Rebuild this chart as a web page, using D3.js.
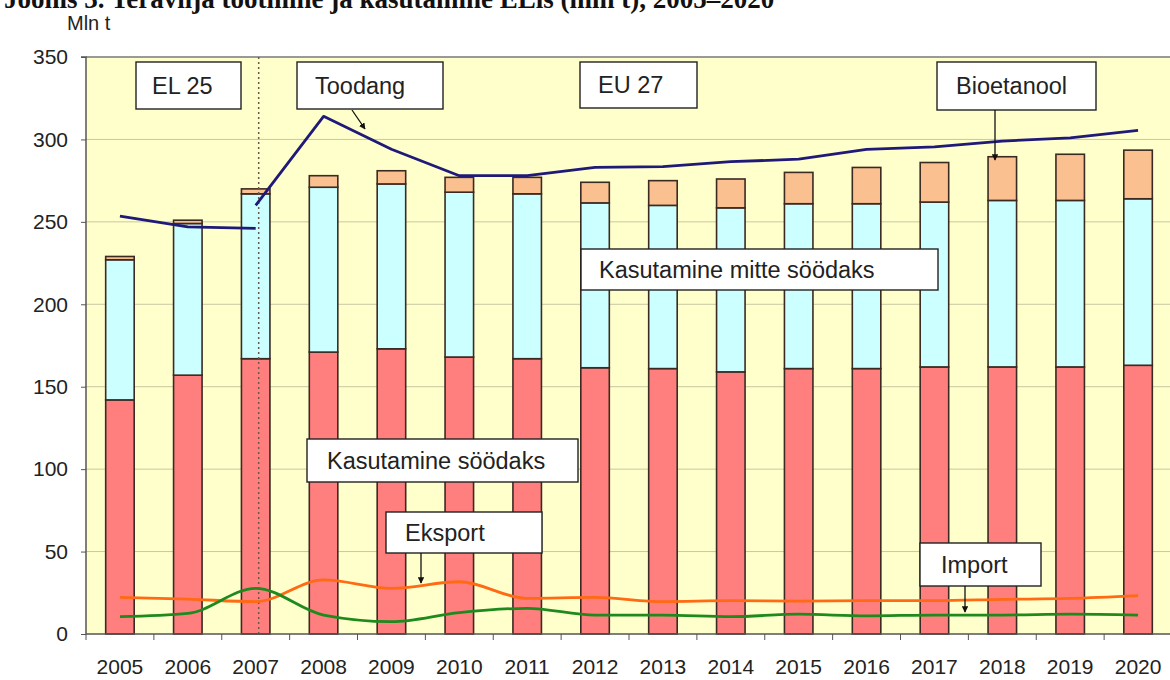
<!DOCTYPE html>
<html>
<head>
<meta charset="utf-8">
<style>
body, html {
	margin: 0;
	width: 100%;
	height: 100%;
	background: #fff;
}
svg text {
	font-family: "Liberation Sans", Arial, sans-serif;
}
</style>
</head>
<body>
<div id="chartContainer"></div>

<script src="https://cdn.jsdelivr.net/npm/d3@7/dist/d3.min.js"></script>
<script>

// --- data (Mln t) ---
const years = ["2005","2006","2007","2008","2009","2010","2011","2012","2013","2014","2015","2016","2017","2018","2019","2020"];
const feedUse    = [142, 157, 167, 171, 173, 168, 167, 161.5, 161, 159, 161, 161, 162, 162, 162, 163];
const nonFeedUse = [ 85,  92, 100, 100, 100, 100, 100, 100, 99, 99.5, 100, 100, 100, 101, 101, 101];
const bioethanol = [  2,   2,   3,   7,   8,   9,  10,  12.5, 15, 17.5, 19, 22, 24, 26.5, 28, 29.5];
const prodEL25Years = ["2005","2006","2007"];
const prodEL25 = [253.5, 247, 246];
const prodEU27Years = years.slice(2);
const prodEU27 = [260, 314, 294, 278, 278, 283, 283.5, 286.5, 288, 294, 295.5, 299, 301, 305.5];
const exportVals = [22.2, 21.2, 19.6, 32.8, 27.7, 31.7, 21.6, 22.2, 19.6, 20.2, 20, 20.2, 20.2, 21, 21.6, 23.3];
const importVals = [10.5, 12.5, 27.7, 11.5, 7.5, 13, 15.6, 11.5, 11.5, 10.5, 12, 11, 11.5, 11.5, 12, 11.5];
const yTicks = [0, 50, 100, 150, 200, 250, 300, 350];

// --- styles ---
const WIDTH = 1170, HEIGHT = 680;
const PLOT = {left: 86, right: 1172, top: 57, bottom: 634};
const BG_COLOR = '#FFFFCC';
const GRID_COLOR = '#C9C7A2';
const AXIS_COLOR = '#555';
const BAR_STROKE = '#3A2A22';
const FEED_COLOR = '#FF7F7F';
const NONFEED_COLOR = '#CCFFFF';
const BIO_COLOR = '#FAC090';
const PROD_COLOR = '#1F1A78';
const EXPORT_COLOR = '#FF6A13';
const IMPORT_COLOR = '#1E8A1E';
const TEXT_COLOR = '#222';
const AXIS_FONT = '21px';
const NOTE_FONT = '23.5px';

var svg = d3.select("#chartContainer").append("svg")
	.attr("width", WIDTH)
	.attr("height", HEIGHT);

var defs = svg.append("defs");
defs.append("marker")
	.attr("id", "arrow")
	.attr("viewBox", "0 0 10 10")
	.attr("refX", 9).attr("refY", 5)
	.attr("markerWidth", 5).attr("markerHeight", 5)
	.attr("orient", "auto")
	.append("path").attr("d", "M0,0 L10,5 L0,10 z").attr("fill", "#111");

// heading, mostly cut off by the top edge as in the original picture
svg.append("text")
	.attr("x", 4).attr("y", 8)
	.style("font-family", "'Liberation Serif', 'DejaVu Serif', serif")
	.style("font-weight", "bold")
	.style("font-size", "27px")
	.attr("fill", "#111")
	.text("Joonis 3. Teravilja tootmine ja kasutamine ELis (mln t), 2005–2020");

var x = d3.scaleBand()
	.domain(years)
	.range([PLOT.left, PLOT.right])
	.paddingInner(0.58)
	.paddingOuter(0.29);

var y = d3.scaleLinear()
	.domain([0, 350])
	.range([PLOT.bottom, PLOT.top]);

var cx = (d) => x(d) + x.bandwidth() / 2;

var chart = svg.append("g");

// plot background
chart.append("rect")
	.attr("x", PLOT.left).attr("y", y(350))
	.attr("width", PLOT.right - PLOT.left)
	.attr("height", y(0) - y(350))
	.attr("fill", BG_COLOR);

// grid
chart.append("g").selectAll("line")
	.data(yTicks.filter(d => d > 0))
	.enter().append("line")
		.attr("x1", PLOT.left).attr("x2", PLOT.right)
		.attr("y1", d => y(d)).attr("y2", d => y(d))
		.attr("stroke", d => d === 350 ? '#999' : GRID_COLOR)
		.attr("stroke-width", d => d === 350 ? 2 : 1);

// stacked bars
var stackRows = years.map((yr, i) => ({year: yr, feed: feedUse[i], nonfeed: nonFeedUse[i], bio: bioethanol[i]}));
var series = d3.stack().keys(["feed", "nonfeed", "bio"])(stackRows);
var fills = {feed: FEED_COLOR, nonfeed: NONFEED_COLOR, bio: BIO_COLOR};

chart.append("g").selectAll("g")
	.data(series)
	.enter().append("g")
		.attr("fill", d => fills[d.key])
	.selectAll("rect")
	.data(d => d)
	.enter().append("rect")
		.attr("x", d => x(d.data.year))
		.attr("width", x.bandwidth())
		.attr("y", d => y(d[1]))
		.attr("height", d => y(d[0]) - y(d[1]))
		.attr("stroke", BAR_STROKE)
		.attr("stroke-width", 1.6);

// EL25 / EU27 divider
chart.append("line")
	.attr("x1", cx("2007") + 3).attr("x2", cx("2007") + 3)
	.attr("y1", y(350)).attr("y2", y(0))
	.attr("stroke", "#6b5a4a")
	.attr("stroke-width", 1.5)
	.attr("stroke-dasharray", "2,3");

// lines
function drawLine(xs, vals, color, curve) {
	var line = d3.line()
		.x((d, i) => cx(xs[i]))
		.y(d => y(d))
		.curve(curve);
	chart.append("path")
		.datum(vals)
		.attr("d", line)
		.attr("fill", "none")
		.attr("stroke", color)
		.attr("stroke-width", 2.8)
		.attr("stroke-linejoin", "round");
}
drawLine(prodEL25Years, prodEL25, PROD_COLOR, d3.curveLinear);
drawLine(prodEU27Years, prodEU27, PROD_COLOR, d3.curveLinear);
drawLine(years, exportVals, EXPORT_COLOR, d3.curveMonotoneX);
drawLine(years, importVals, IMPORT_COLOR, d3.curveMonotoneX);

// axes
var yAxis = d3.axisLeft(y).tickValues(yTicks).tickSize(5).tickPadding(13);
var yG = svg.append("g").attr("transform", `translate(${PLOT.left},0)`).call(yAxis);
yG.select(".domain").attr("stroke", AXIS_COLOR).attr("stroke-width", 1.5).attr("d", `M-5,${y(350)}H0V${y(0)}`);
yG.selectAll(".tick line").attr("stroke", AXIS_COLOR);
yG.selectAll("text").style("font-size", AXIS_FONT).attr("fill", TEXT_COLOR);

var xAxis = d3.axisBottom(x).tickSize(0).tickPadding(25);
var xG = svg.append("g").attr("transform", `translate(0,${PLOT.bottom})`).call(xAxis);
xG.select(".domain").attr("stroke", AXIS_COLOR).attr("stroke-width", 1.5).attr("d", `M${PLOT.left},0H${PLOT.right}`);
xG.selectAll("text").style("font-size", AXIS_FONT).attr("fill", TEXT_COLOR);
xG.selectAll(".boundary")
	.data(years)
	.enter().append("line")
		.attr("class", "boundary")
		.attr("x1", d => x(d) - x.step() * x.paddingInner() / 2)
		.attr("x2", d => x(d) - x.step() * x.paddingInner() / 2)
		.attr("y1", 0).attr("y2", 6)
		.attr("stroke", AXIS_COLOR);

svg.append("text")
	.attr("x", 67).attr("y", 30)
	.style("font-size", "20px")
	.attr("fill", TEXT_COLOR)
	.text("Mln t");

// annotation boxes
const notes = [
	{text: "EL 25", x: 136, y: 62, w: 105, h: 47, pad: 16},
	{text: "Toodang", x: 297, y: 62, w: 146, h: 47, pad: 18},
	{text: "EU 27", x: 580, y: 62, w: 117, h: 46, pad: 18},
	{text: "Bioetanool", x: 937, y: 62, w: 159, h: 48, pad: 19},
	{text: "Kasutamine mitte söödaks", x: 581, y: 249, w: 357, h: 41, pad: 18},
	{text: "Kasutamine söödaks", x: 307, y: 439, w: 271, h: 43, pad: 20},
	{text: "Eksport", x: 386, y: 512, w: 156, h: 41, pad: 19},
	{text: "Import", x: 920, y: 543, w: 121, h: 43, pad: 21}
];
const arrows = [
	[352, 110, 365, 129],
	[995, 110, 995, 160],
	[421, 553, 421, 583],
	[965, 586, 965, 612]
];

var noteG = svg.append("g").selectAll("g")
	.data(notes)
	.enter().append("g")
		.attr("transform", d => `translate(${d.x},${d.y})`);
noteG.append("rect")
	.attr("width", d => d.w).attr("height", d => d.h)
	.attr("fill", "#fff")
	.attr("stroke", "#222")
	.attr("stroke-width", 1.4);
noteG.append("text")
	.attr("x", d => d.pad)
	.attr("y", d => d.h / 2 + 8)
	.style("font-size", NOTE_FONT)
	.attr("fill", TEXT_COLOR)
	.text(d => d.text);

svg.append("g").selectAll("line")
	.data(arrows)
	.enter().append("line")
		.attr("x1", d => d[0]).attr("y1", d => d[1])
		.attr("x2", d => d[2]).attr("y2", d => d[3])
		.attr("stroke", "#111")
		.attr("stroke-width", 1.3)
		.attr("marker-end", "url(#arrow)");

</script>
</body>
</html>
